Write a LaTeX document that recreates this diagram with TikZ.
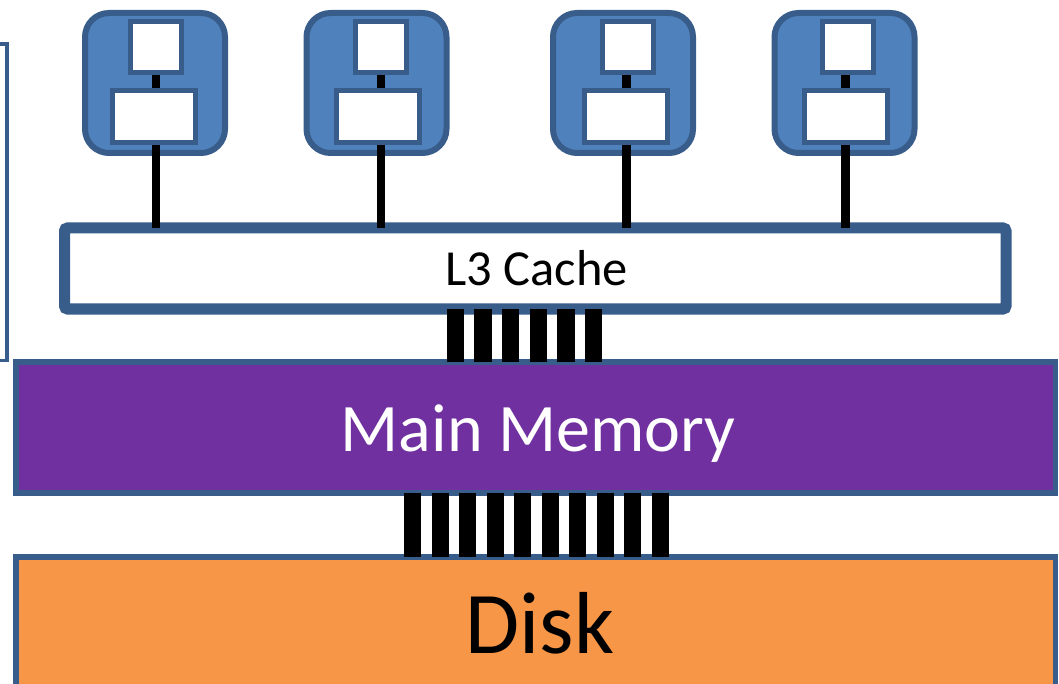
\documentclass[tikz,border=0pt]{standalone}
\usepackage{fontspec}
\setmainfont{Carlito}
\definecolor{corefill}{HTML}{4F81BD}
\definecolor{edgeblue}{HTML}{385D8A}
\definecolor{mempurple}{HTML}{7030A0}
\definecolor{diskorange}{HTML}{F79646}
\tikzset{
  core/.style={draw=edgeblue, fill=corefill, line width=6pt, rounded corners=24pt,
    minimum width=140pt, minimum height=140pt, inner sep=0pt},
  l1box/.style={draw=edgeblue, fill=white, line width=5pt,
    minimum width=51pt, minimum height=51pt, inner sep=0pt},
  l2box/.style={draw=edgeblue, fill=white, line width=5pt,
    minimum width=83pt, minimum height=52pt, inner sep=0pt},
  l3box/.style={draw=edgeblue, fill=white, line width=11pt, rounded corners=3pt,
    minimum width=941.5pt, minimum height=81pt, inner sep=0pt},
  membox/.style={draw=edgeblue, fill=mempurple, line width=5.5pt,
    minimum width=1039.5pt, minimum height=131pt, inner sep=0pt},
  diskbox/.style={draw=edgeblue, fill=diskorange, line width=5.5pt,
    minimum width=1039.5pt, minimum height=163pt, inner sep=0pt},
  wire/.style={draw=black, line width=8.5pt},
  bus/.style={draw=black, line width=17.5pt},
  lbl/.style={anchor=base, inner sep=0pt},
}
\begin{document}
\begin{tikzpicture}[x=1pt, y=-1pt]
\useasboundingbox (0,0) rectangle (1059,684);
\clip (0,0) rectangle (1059,684);
% bracket at left
\draw[edgeblue, line width=3.5pt] (0,44) -- (7,44) -- (7,360.5) -- (0,360.5);
% L3, memory, disk
\node[l3box] (l3) at (535.25,268.5) {};
\node[lbl] (l3t) at (536.5,286) {\fontsize{50.5}{60}\selectfont L3 Cache};
\node[membox] (mem) at (535.75,427.5) {};
\node[lbl, text=white] (memt) at (538,451) {\fontsize{68}{80}\selectfont Main Memory};
\node[diskbox] (disk) at (535.75,638.5) {};
\node[lbl] (diskt) at (540,653) {\fontsize{88}{100}\selectfont Disk};
% cores
\foreach \i/\bx/\sx/\rx/\lx in {1/155/156/154/156, 2/376.5/380.5/378/381, 3/623/628/626/626.5, 4/844.5/848/845.5/845.5}{
  \node[core] (core\i) at (\bx,83) {};
  \node[l1box] (sq\i) at (\sx,47) {};
  \node[l2box] (rc\i) at (\rx,116.5) {};
  \coordinate (x\i) at (\lx,0);
  \draw[wire] (sq\i.south -| x\i) -- (rc\i.north -| x\i);
  \draw[wire, shorten >=-5.5pt] (rc\i.south -| x\i) -- (l3.north -| x\i);
}
% bus L3 - memory
\foreach \k in {0,...,5}{
  \coordinate (a\k) at (455.5+27.6*\k,0);
  \draw[bus, shorten <=-5.5pt, shorten >=-3pt] (l3.south -| a\k) -- (mem.north -| a\k);
}
% bus memory - disk
\foreach \k in {0,...,9}{
  \coordinate (b\k) at (412.5+27.5*\k,0);
  \draw[bus, line width=17pt, shorten <=-2.75pt, shorten >=-2.75pt] (mem.south -| b\k) -- (disk.north -| b\k);
}
\end{tikzpicture}
\end{document}
